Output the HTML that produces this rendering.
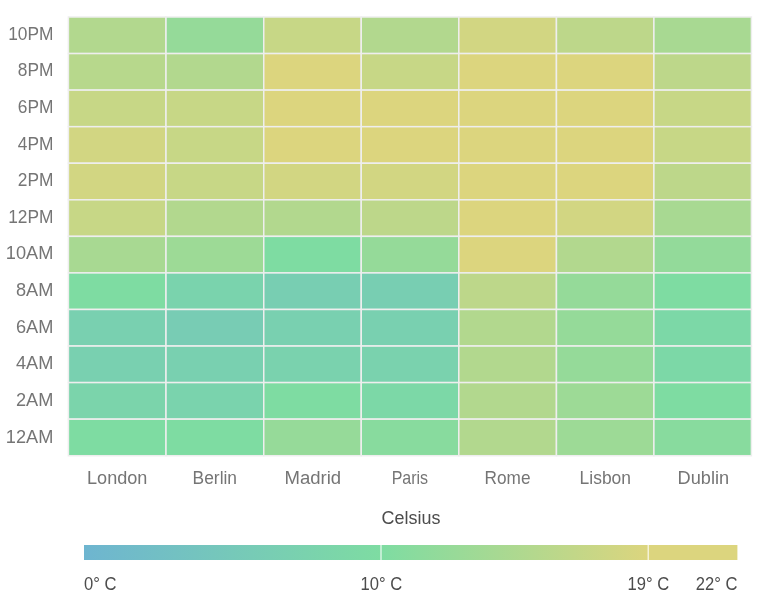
<!DOCTYPE html>
<html><head><meta charset="utf-8"><title>Heatmap</title>
<style>
html,body{margin:0;padding:0;background:#fff;}
body{width:774px;height:612px;overflow:hidden;font-family:"Liberation Sans",sans-serif;}
svg{display:block;}
.ax{font-family:"Liberation Sans",sans-serif;font-size:18px;fill:#757575;}
.lg{font-family:"Liberation Sans",sans-serif;font-size:17.5px;fill:#4c4c4c;}
.tt{font-family:"Liberation Sans",sans-serif;font-size:18.5px;fill:#4c4c4c;}
.c{stroke:#eeeeee;stroke-width:1.5;}
</style></head><body>
<svg xmlns="http://www.w3.org/2000/svg" width="774" height="612" viewBox="0 0 774 612">
<defs><linearGradient id="g" x1="0" x2="1" y1="0" y2="0">
<stop offset="0" stop-color="#6eb5d0"/><stop offset="0.4545" stop-color="#7edca2"/><stop offset="0.8636" stop-color="#dcd57e"/><stop offset="1" stop-color="#dcd57e"/>
</linearGradient></defs>
<rect width="774" height="612" fill="#fff"/>

<rect class="c" x="68.40" y="17.00" width="97.60" height="36.56" fill="#b2d88e"/>
<rect class="c" x="166.00" y="17.00" width="97.75" height="36.56" fill="#95da99"/>
<rect class="c" x="263.75" y="17.00" width="97.50" height="36.56" fill="#c7d786"/>
<rect class="c" x="361.25" y="17.00" width="97.55" height="36.56" fill="#b2d88e"/>
<rect class="c" x="458.80" y="17.00" width="97.65" height="36.56" fill="#d2d682"/>
<rect class="c" x="556.45" y="17.00" width="97.45" height="36.56" fill="#bdd78a"/>
<rect class="c" x="653.90" y="17.00" width="97.50" height="36.56" fill="#a8d992"/>

<rect class="c" x="68.40" y="53.56" width="97.60" height="36.56" fill="#b7d88c"/>
<rect class="c" x="166.00" y="53.56" width="97.75" height="36.56" fill="#b2d88e"/>
<rect class="c" x="263.75" y="53.56" width="97.50" height="36.56" fill="#dcd57e"/>
<rect class="c" x="361.25" y="53.56" width="97.55" height="36.56" fill="#c7d786"/>
<rect class="c" x="458.80" y="53.56" width="97.65" height="36.56" fill="#dcd57e"/>
<rect class="c" x="556.45" y="53.56" width="97.45" height="36.56" fill="#dcd57e"/>
<rect class="c" x="653.90" y="53.56" width="97.50" height="36.56" fill="#bdd78a"/>

<rect class="c" x="68.40" y="90.12" width="97.60" height="36.56" fill="#c7d786"/>
<rect class="c" x="166.00" y="90.12" width="97.75" height="36.56" fill="#c7d786"/>
<rect class="c" x="263.75" y="90.12" width="97.50" height="36.56" fill="#dcd57e"/>
<rect class="c" x="361.25" y="90.12" width="97.55" height="36.56" fill="#dcd57e"/>
<rect class="c" x="458.80" y="90.12" width="97.65" height="36.56" fill="#dcd57e"/>
<rect class="c" x="556.45" y="90.12" width="97.45" height="36.56" fill="#dcd57e"/>
<rect class="c" x="653.90" y="90.12" width="97.50" height="36.56" fill="#c7d786"/>

<rect class="c" x="68.40" y="126.68" width="97.60" height="36.56" fill="#d2d682"/>
<rect class="c" x="166.00" y="126.68" width="97.75" height="36.56" fill="#c7d786"/>
<rect class="c" x="263.75" y="126.68" width="97.50" height="36.56" fill="#dcd57e"/>
<rect class="c" x="361.25" y="126.68" width="97.55" height="36.56" fill="#dcd57e"/>
<rect class="c" x="458.80" y="126.68" width="97.65" height="36.56" fill="#dcd57e"/>
<rect class="c" x="556.45" y="126.68" width="97.45" height="36.56" fill="#dcd57e"/>
<rect class="c" x="653.90" y="126.68" width="97.50" height="36.56" fill="#c7d786"/>

<rect class="c" x="68.40" y="163.24" width="97.60" height="36.56" fill="#d2d682"/>
<rect class="c" x="166.00" y="163.24" width="97.75" height="36.56" fill="#c7d786"/>
<rect class="c" x="263.75" y="163.24" width="97.50" height="36.56" fill="#d2d682"/>
<rect class="c" x="361.25" y="163.24" width="97.55" height="36.56" fill="#d2d682"/>
<rect class="c" x="458.80" y="163.24" width="97.65" height="36.56" fill="#dcd57e"/>
<rect class="c" x="556.45" y="163.24" width="97.45" height="36.56" fill="#dcd57e"/>
<rect class="c" x="653.90" y="163.24" width="97.50" height="36.56" fill="#bdd78a"/>

<rect class="c" x="68.40" y="199.80" width="97.60" height="36.56" fill="#c7d786"/>
<rect class="c" x="166.00" y="199.80" width="97.75" height="36.56" fill="#b2d88e"/>
<rect class="c" x="263.75" y="199.80" width="97.50" height="36.56" fill="#b2d88e"/>
<rect class="c" x="361.25" y="199.80" width="97.55" height="36.56" fill="#bdd78a"/>
<rect class="c" x="458.80" y="199.80" width="97.65" height="36.56" fill="#dcd57e"/>
<rect class="c" x="556.45" y="199.80" width="97.45" height="36.56" fill="#d2d682"/>
<rect class="c" x="653.90" y="199.80" width="97.50" height="36.56" fill="#a8d992"/>

<rect class="c" x="68.40" y="236.36" width="97.60" height="36.56" fill="#a8d992"/>
<rect class="c" x="166.00" y="236.36" width="97.75" height="36.56" fill="#9dda96"/>
<rect class="c" x="263.75" y="236.36" width="97.50" height="36.56" fill="#7edca2"/>
<rect class="c" x="361.25" y="236.36" width="97.55" height="36.56" fill="#95da99"/>
<rect class="c" x="458.80" y="236.36" width="97.65" height="36.56" fill="#dcd57e"/>
<rect class="c" x="556.45" y="236.36" width="97.45" height="36.56" fill="#b2d88e"/>
<rect class="c" x="653.90" y="236.36" width="97.50" height="36.56" fill="#93da9a"/>

<rect class="c" x="68.40" y="272.92" width="97.60" height="36.56" fill="#7edca2"/>
<rect class="c" x="166.00" y="272.92" width="97.75" height="36.56" fill="#7ad3ad"/>
<rect class="c" x="263.75" y="272.92" width="97.50" height="36.56" fill="#78ceb2"/>
<rect class="c" x="361.25" y="272.92" width="97.55" height="36.56" fill="#78ceb2"/>
<rect class="c" x="458.80" y="272.92" width="97.65" height="36.56" fill="#bdd78a"/>
<rect class="c" x="556.45" y="272.92" width="97.45" height="36.56" fill="#95da99"/>
<rect class="c" x="653.90" y="272.92" width="97.50" height="36.56" fill="#7edca2"/>

<rect class="c" x="68.40" y="309.48" width="97.60" height="36.56" fill="#79d0b0"/>
<rect class="c" x="166.00" y="309.48" width="97.75" height="36.56" fill="#78ccb4"/>
<rect class="c" x="263.75" y="309.48" width="97.50" height="36.56" fill="#79d0b0"/>
<rect class="c" x="361.25" y="309.48" width="97.55" height="36.56" fill="#79d0b0"/>
<rect class="c" x="458.80" y="309.48" width="97.65" height="36.56" fill="#b2d88e"/>
<rect class="c" x="556.45" y="309.48" width="97.45" height="36.56" fill="#95da99"/>
<rect class="c" x="653.90" y="309.48" width="97.50" height="36.56" fill="#7cd8a7"/>

<rect class="c" x="68.40" y="346.04" width="97.60" height="36.56" fill="#79d0b0"/>
<rect class="c" x="166.00" y="346.04" width="97.75" height="36.56" fill="#79d0b0"/>
<rect class="c" x="263.75" y="346.04" width="97.50" height="36.56" fill="#7ad2ae"/>
<rect class="c" x="361.25" y="346.04" width="97.55" height="36.56" fill="#7ad2ae"/>
<rect class="c" x="458.80" y="346.04" width="97.65" height="36.56" fill="#b2d88e"/>
<rect class="c" x="556.45" y="346.04" width="97.45" height="36.56" fill="#95da99"/>
<rect class="c" x="653.90" y="346.04" width="97.50" height="36.56" fill="#7cd8a7"/>

<rect class="c" x="68.40" y="382.60" width="97.60" height="36.56" fill="#7bd4ab"/>
<rect class="c" x="166.00" y="382.60" width="97.75" height="36.56" fill="#7ad3ad"/>
<rect class="c" x="263.75" y="382.60" width="97.50" height="36.56" fill="#7edca2"/>
<rect class="c" x="361.25" y="382.60" width="97.55" height="36.56" fill="#7cd8a7"/>
<rect class="c" x="458.80" y="382.60" width="97.65" height="36.56" fill="#b2d88e"/>
<rect class="c" x="556.45" y="382.60" width="97.45" height="36.56" fill="#9dda96"/>
<rect class="c" x="653.90" y="382.60" width="97.50" height="36.56" fill="#7edca2"/>

<rect class="c" x="68.40" y="419.16" width="97.60" height="36.56" fill="#7edca2"/>
<rect class="c" x="166.00" y="419.16" width="97.75" height="36.56" fill="#7edca2"/>
<rect class="c" x="263.75" y="419.16" width="97.50" height="36.56" fill="#96da99"/>
<rect class="c" x="361.25" y="419.16" width="97.55" height="36.56" fill="#88db9e"/>
<rect class="c" x="458.80" y="419.16" width="97.65" height="36.56" fill="#b2d88e"/>
<rect class="c" x="556.45" y="419.16" width="97.45" height="36.56" fill="#9dda96"/>
<rect class="c" x="653.90" y="419.16" width="97.50" height="36.56" fill="#88db9e"/>

<text class="ax" text-anchor="end" transform="translate(53.4,39.8) scale(0.963,1)">10PM</text>
<text class="ax" text-anchor="end" transform="translate(53.4,76.4) scale(0.963,1)">8PM</text>
<text class="ax" text-anchor="end" transform="translate(53.4,113.0) scale(0.963,1)">6PM</text>
<text class="ax" text-anchor="end" transform="translate(53.4,149.6) scale(0.963,1)">4PM</text>
<text class="ax" text-anchor="end" transform="translate(53.4,186.2) scale(0.963,1)">2PM</text>
<text class="ax" text-anchor="end" transform="translate(53.4,222.8) scale(0.963,1)">12PM</text>
<text class="ax" text-anchor="end" transform="translate(53.4,259.4) scale(1.012,1)">10AM</text>
<text class="ax" text-anchor="end" transform="translate(53.4,296.0) scale(1.012,1)">8AM</text>
<text class="ax" text-anchor="end" transform="translate(53.4,332.6) scale(1.012,1)">6AM</text>
<text class="ax" text-anchor="end" transform="translate(53.4,369.2) scale(1.012,1)">4AM</text>
<text class="ax" text-anchor="end" transform="translate(53.4,405.8) scale(1.012,1)">2AM</text>
<text class="ax" text-anchor="end" transform="translate(53.4,442.9) scale(1.012,1)">12AM</text>
<text class="ax" text-anchor="middle" transform="translate(117.2,484) scale(1.005,1)">London</text>
<text class="ax" text-anchor="middle" transform="translate(214.8,484) scale(0.966,1)">Berlin</text>
<text class="ax" text-anchor="middle" transform="translate(312.8,484) scale(1.03,1)">Madrid</text>
<text class="ax" text-anchor="middle" transform="translate(409.9,484) scale(0.89,1)">Paris</text>
<text class="ax" text-anchor="middle" transform="translate(507.5,484) scale(0.957,1)">Rome</text>
<text class="ax" text-anchor="middle" transform="translate(605.3,484) scale(0.97,1)">Lisbon</text>
<text class="ax" text-anchor="middle" transform="translate(703.3,484) scale(1.01,1)">Dublin</text>
<text class="tt" text-anchor="middle" transform="translate(411,524) scale(0.97,1)">Celsius</text>
<rect x="84" y="545" width="653.4" height="15" fill="url(#g)"/>
<rect x="380.4" y="545" width="1.2" height="15" fill="#fff" fill-opacity="0.85"/>
<rect x="647.6" y="545" width="1.2" height="15" fill="#fff" fill-opacity="0.85"/>
<text class="lg" text-anchor="start" transform="translate(84,589.7) scale(0.95,1)">0° C</text>
<text class="lg" text-anchor="middle" transform="translate(381.3,589.7) scale(0.95,1)">10° C</text>
<text class="lg" text-anchor="middle" transform="translate(648.3,589.7) scale(0.95,1)">19° C</text>
<text class="lg" text-anchor="end" transform="translate(737.5,589.7) scale(0.95,1)">22° C</text>
</svg></body></html>
